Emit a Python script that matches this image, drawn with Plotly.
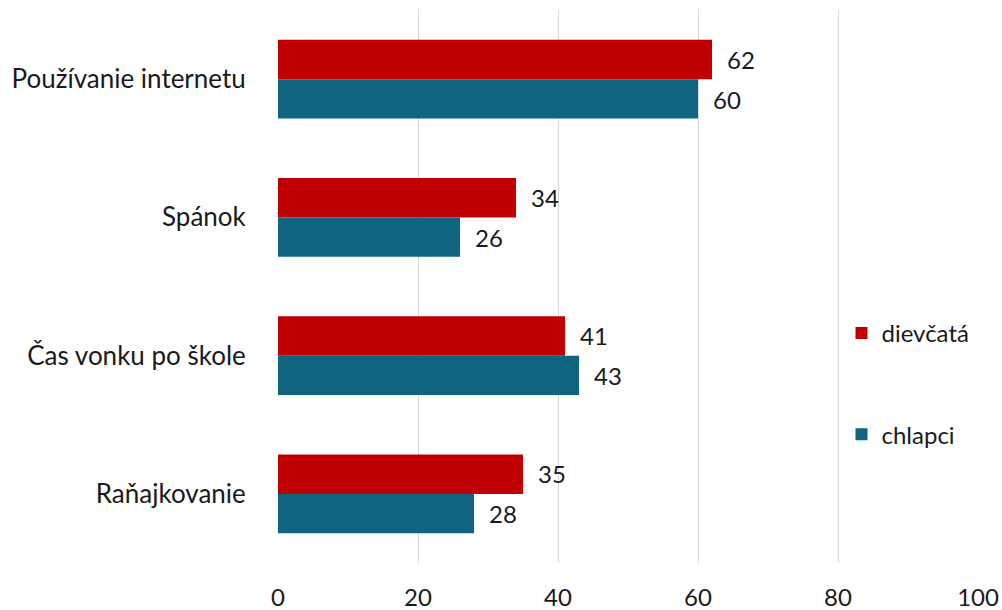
import plotly.graph_objects as go

categories = ["Používanie internetu", "Spánok", "Čas vonku po škole", "Raňajkovanie"]
dievcata = [62, 34, 41, 35]
chlapci = [60, 26, 43, 28]
series_names = ["dievčatá", "chlapci"]
x_ticks = [0, 20, 40, 60, 80, 100]

RED = "#C00000"
TEAL = "#0F6580"
FONT = "Lato"
FS = 24

fig = go.Figure()
fig.add_trace(go.Bar(
    y=categories, x=dievcata, name=series_names[0], orientation="h",
    marker=dict(color=RED, line=dict(width=0)), legendgroup="a",
))
fig.add_trace(go.Bar(
    y=categories, x=chlapci, name=series_names[1], orientation="h",
    marker=dict(color=TEAL, line=dict(width=0)), legendgroup="b",
))

# value labels placed just right of each bar end
for vals, off in ((dievcata, -0.145), (chlapci, 0.145)):
    for i, v in enumerate(vals):
        fig.add_annotation(
            x=v, y=i + off, xref="x", yref="y", text=str(v),
            showarrow=False, xanchor="left", xshift=13,
            font=dict(family=FONT, size=FS, color="#1a1a1a"),
        )

fig.update_layout(
    width=1002, height=610,
    margin=dict(l=278, r=24, t=10, b=47),
    paper_bgcolor="white", plot_bgcolor="white",
    barmode="group", bargap=0.43, bargroupgap=0,
    font=dict(family=FONT, size=FS, color="#1a1a1a"),
    legend=dict(
        x=0.805, y=0.324, xanchor="left", yanchor="middle",
        traceorder="grouped", tracegroupgap=67,
        bgcolor="rgba(0,0,0,0)", font=dict(size=FS),
        itemwidth=30,
    ),
    xaxis=dict(
        range=[0, 100], tickvals=x_ticks, showgrid=True,
        gridcolor="#D9D9D9", gridwidth=1, zeroline=False,
        ticks="outside", ticklen=13, tickcolor="white",
        showline=False, fixedrange=True, automargin=False,
    ),
    yaxis=dict(
        categoryorder="array", categoryarray=categories,
        autorange="reversed", showgrid=False, zeroline=False,
        ticks="outside", ticklen=26, tickcolor="white",
        showline=False, automargin=False,
        tickfont=dict(size=26),
    ),
)

fig.write_html("out.html")
